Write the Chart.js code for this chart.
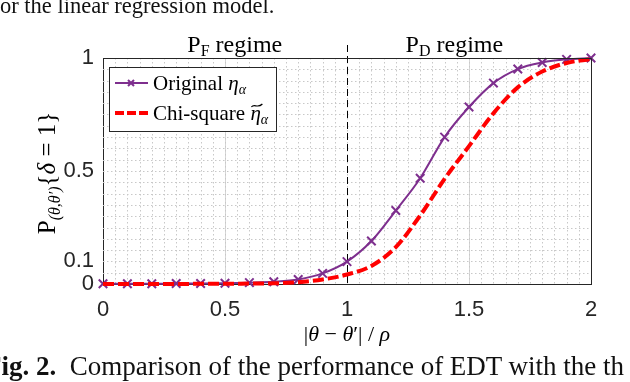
<!DOCTYPE html>
<html>
<head>
<meta charset="utf-8">
<script src="https://cdn.jsdelivr.net/npm/chart.js@4.4.1/dist/chart.umd.min.js"></script>
<style>
  html, body { margin: 0; padding: 0; background: #fff; overflow: hidden; }
  #wrap { position: relative; width: 630px; height: 382px; }
  canvas { position: absolute; left: 0; top: 0; }
  .cap { position: absolute; white-space: nowrap; font-family: 'Liberation Serif', serif; color: #111; }
  #capTop { left: 0; top: -7px; font-size: 22.5px; }
  #capBottom { left: -15px; top: 351px; font-size: 27px; }
</style>
</head>
<body>
<div id="wrap">
  <canvas id="chart" width="630" height="382"></canvas>
  <div class="cap" id="capTop">or the linear regression model.</div>
  <div class="cap" id="capBottom"><b>Fig. 2.</b>&nbsp; Comparison of the performance of EDT with the th</div>
</div>
<script>
// Detection probability vs normalised distance

const xValues = [0, 0.1, 0.2, 0.3, 0.4, 0.5, 0.6, 0.7, 0.8, 0.9, 1.0,
                 1.1, 1.2, 1.3, 1.4, 1.5, 1.6, 1.7, 1.8, 1.9, 2.0];
const originalValues = [0.001, 0.001, 0.001, 0.002, 0.002, 0.003, 0.006, 0.01, 0.02, 0.047, 0.099,
                        0.19, 0.325, 0.468, 0.65, 0.783, 0.889, 0.951, 0.98, 0.994, 1.0];
const chiSquareValues = [0, 0, 0, 0, 0.001, 0.001, 0.002, 0.003, 0.008, 0.02, 0.042,
                         0.08, 0.163, 0.303, 0.465, 0.61, 0.755, 0.87, 0.94, 0.978, 0.995];
const xTicks = [0, 0.5, 1, 1.5, 2];
const yTicks = [0, 0.1, 0.5, 1];
const minorStep = 0.05;
const regimeLabels = [
  { at: 0.54, main: 'P', sub: 'F', rest: ' regime' },
  { at: 1.44, main: 'P', sub: 'D', rest: ' regime' }
];
const regimeBoundary = 1;

const PURPLE = '#7E2F8E';
const RED = '#FF0000';
const AXIS = '#262626';
const SERIF = "'Liberation Serif', 'DejaVu Serif', serif";
const SANS = "'Liberation Sans', Arial, sans-serif";

// draw a run of text pieces with their own font / baseline shift
function drawRich(ctx, parts, x, y) {
  let w = 0;
  for (const p of parts) { ctx.font = p.f; w += ctx.measureText(p.t).width; }
  let cx = x - w / 2;
  ctx.textAlign = 'left';
  ctx.textBaseline = 'alphabetic';
  for (const p of parts) {
    ctx.font = p.f;
    ctx.fillText(p.t, cx, y + (p.dy || 0));
    cx += ctx.measureText(p.t).width;
  }
}

const decorPlugin = {
  id: 'decor',
  beforeDatasetsDraw(chart) {
    const { ctx, chartArea: a, scales: { x, y } } = chart;
    ctx.save();
    // dotted minor grid
    ctx.strokeStyle = '#c8c8c8';
    ctx.lineWidth = 1;
    ctx.setLineDash([1.5, 2.5]);
    for (let v = minorStep; v < 2 - 1e-6; v += minorStep) {
      const px = Math.round(x.getPixelForValue(v)) + 0.5;
      ctx.beginPath(); ctx.moveTo(px, a.top); ctx.lineTo(px, a.bottom); ctx.stroke();
    }
    for (let v = minorStep; v < 1 - 1e-6; v += minorStep) {
      const py = Math.round(y.getPixelForValue(v)) + 0.5;
      ctx.beginPath(); ctx.moveTo(a.left, py); ctx.lineTo(a.right, py); ctx.stroke();
    }
    // regime boundary
    ctx.strokeStyle = '#000';
    ctx.setLineDash([7, 4]);
    const bx = Math.round(x.getPixelForValue(regimeBoundary)) + 0.5;
    ctx.beginPath(); ctx.moveTo(bx, a.top - 13); ctx.lineTo(bx, a.bottom); ctx.stroke();
    ctx.restore();
  },
  afterDatasetsDraw(chart) {
    const { ctx, chartArea: a, scales: { x } } = chart;
    ctx.save();
    // box top / right
    ctx.strokeStyle = AXIS;
    ctx.lineWidth = 1;
    ctx.beginPath();
    ctx.moveTo(a.left, a.top + 0.5); ctx.lineTo(a.right + 0.5, a.top + 0.5);
    ctx.lineTo(a.right + 0.5, a.bottom);
    ctx.stroke();

    // legend box
    const lx = 109, ly = 67, lw = 167, lh = 64;
    ctx.fillStyle = '#fff';
    ctx.fillRect(lx, ly, lw, lh);
    ctx.strokeRect(lx + 0.5, ly + 0.5, lw, lh);
    // purple sample
    ctx.strokeStyle = PURPLE; ctx.lineWidth = 2;
    ctx.beginPath(); ctx.moveTo(115, 83); ctx.lineTo(148, 83); ctx.stroke();
    ctx.beginPath();
    ctx.moveTo(128, 80); ctx.lineTo(134, 86); ctx.moveTo(134, 80); ctx.lineTo(128, 86);
    ctx.stroke();
    // red sample
    ctx.strokeStyle = RED; ctx.lineWidth = 4; ctx.setLineDash([9, 3]);
    ctx.beginPath(); ctx.moveTo(115, 113); ctx.lineTo(148, 113); ctx.stroke();
    ctx.setLineDash([]);
    ctx.fillStyle = '#000';
    ctx.textAlign = 'left';
    ctx.font = '21px ' + SERIF;
    ctx.fillText('Original ', 153, 90);
    let w = ctx.measureText('Original ').width;
    ctx.font = 'italic 21px ' + SERIF;
    ctx.fillText('η', 153 + w, 90);
    w += ctx.measureText('η').width;
    ctx.font = 'italic 14px ' + SERIF;
    ctx.fillText('α', 153 + w, 94);

    ctx.font = '21px ' + SERIF;
    ctx.fillText('Chi-square ', 153, 120);
    w = ctx.measureText('Chi-square ').width;
    ctx.font = 'italic 21px ' + SERIF;
    ctx.fillText('η', 153 + w, 120);
    // tilde accent
    const tx = 153 + w + 1;
    ctx.strokeStyle = '#000'; ctx.lineWidth = 1.2;
    ctx.beginPath();
    ctx.moveTo(tx, 107);
    ctx.bezierCurveTo(tx + 3, 103, tx + 6, 109, tx + 11, 104);
    ctx.stroke();
    w += ctx.measureText('η').width;
    ctx.font = 'italic 14px ' + SERIF;
    ctx.fillText('α', 153 + w, 124);

    // regime labels above plot
    for (const r of regimeLabels) {
      drawRich(ctx, [
        { t: r.main, f: '24px ' + SERIF },
        { t: r.sub, f: '16px ' + SERIF, dy: 4 },
        { t: r.rest, f: '24px ' + SERIF }
      ], x.getPixelForValue(r.at), 52);
    }

    // axis titles
    drawRich(ctx, [
      { t: '|', f: '22px ' + SERIF },
      { t: 'θ', f: 'italic 22px ' + SERIF },
      { t: ' − ', f: '22px ' + SERIF },
      { t: 'θ', f: 'italic 22px ' + SERIF },
      { t: '′', f: '22px ' + SERIF },
      { t: '| / ', f: '22px ' + SERIF },
      { t: 'ρ', f: 'italic 22px ' + SERIF }
    ], x.getPixelForValue(1), 341);

    ctx.translate(55, 173);
    ctx.rotate(-Math.PI / 2);
    drawRich(ctx, [
      { t: 'P', f: '25px ' + SERIF },
      { t: '(θ,θ′)', f: 'italic 16px ' + SERIF, dy: 5 },
      { t: '{', f: '25px ' + SERIF },
      { t: 'δ', f: 'italic 25px ' + SERIF },
      { t: ' = 1}', f: '25px ' + SERIF }
    ], 0, 0);
    ctx.restore();
  }
};

new Chart(document.getElementById('chart').getContext('2d'), {
  type: 'line',
  data: {
    datasets: [
      {
        label: 'Original',
        data: xValues.map((v, i) => ({ x: v, y: originalValues[i] })),
        borderColor: PURPLE,
        backgroundColor: PURPLE,
        borderWidth: 2,
        pointStyle: 'crossRot',
        pointRadius: 6,
        pointBorderWidth: 2,
        pointBorderColor: PURPLE,
        cubicInterpolationMode: 'monotone',
        clip: false,
        order: 1
      },
      {
        label: 'Chi-square',
        data: xValues.map((v, i) => ({ x: v, y: chiSquareValues[i] })),
        borderColor: RED,
        borderWidth: 4,
        borderDash: [11, 4],
        pointRadius: 0,
        cubicInterpolationMode: 'monotone',
        clip: false,
        order: 0
      }
    ]
  },
  options: {
    responsive: false,
    animation: false,
    layout: { padding: { top: 58, right: 39, left: 0, bottom: 0 } },
    plugins: { legend: { display: false }, tooltip: { enabled: false } },
    scales: {
      x: {
        type: 'linear',
        min: 0,
        max: 2,
        afterBuildTicks: s => { s.ticks = xTicks.map(v => ({ value: v })); },
        afterFit: s => { s.height = 98; },
        ticks: {
          color: AXIS,
          padding: 13,
          font: { family: SANS, size: 22 },
          callback: v => String(v)
        },
        grid: {
          drawTicks: false,
          color: c => (c.tick && (c.tick.value === 0.5 || c.tick.value === 1.5)) ? '#d6d6d6' : 'rgba(0,0,0,0)'
        },
        border: { color: AXIS, width: 1 }
      },
      y: {
        type: 'linear',
        min: 0,
        max: 1,
        afterBuildTicks: s => { s.ticks = yTicks.map(v => ({ value: v })); },
        afterFit: s => { s.width = 103; },
        ticks: {
          color: AXIS,
          padding: 9,
          font: { family: SANS, size: 22 },
          callback: v => String(v)
        },
        grid: { drawTicks: false, color: 'rgba(0,0,0,0)' },
        border: { color: AXIS, width: 1 }
      }
    }
  },
  plugins: [decorPlugin]
});
</script>
</body>
</html>
